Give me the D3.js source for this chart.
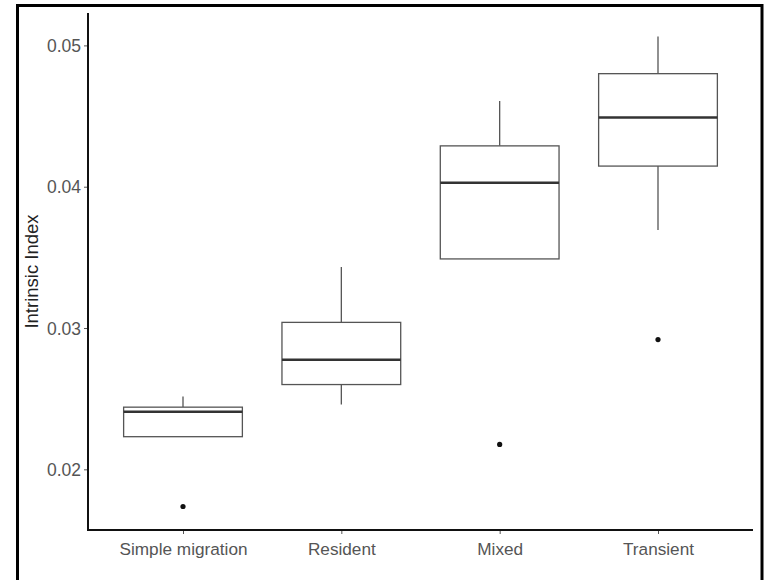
<!DOCTYPE html>
<html><head><meta charset="utf-8">
<script src="https://cdn.jsdelivr.net/npm/d3@7"></script>
<style>body{margin:0;background:#fff}svg{display:block}text{font-family:"Liberation Sans",Arial,sans-serif}</style>
</head><body>
<script>
const categories = ["Simple migration", "Resident", "Mixed", "Transient"];
const lowerWhisker = [0.02231, 0.02459, 0.03489, 0.03694];
const q1 = [0.02231, 0.02600, 0.03489, 0.04146];
const median = [0.02407, 0.02776, 0.04028, 0.04490];
const q3 = [0.02440, 0.03040, 0.04289, 0.04800];
const upperWhisker = [0.02515, 0.03431, 0.04607, 0.05063];
const outliers = [[0.01737], [], [0.02176], [0.02918]];
const yTicks = [0.02, 0.03, 0.04, 0.05];
const yTitle = "Intrinsic Index";

const W = 766, H = 580;
const svg = d3.select("body").append("svg").attr("width", W).attr("height", H);
svg.append("rect").attr("width", W).attr("height", H).attr("fill", "#fff");

const plot = {left: 88, right: 753, top: 13, bottom: 530};

const allVals = [].concat(lowerWhisker, upperWhisker, ...outliers);
const dmin = d3.min(allVals), dmax = d3.max(allVals);
const pad = (dmax - dmin) * 0.05;
const y = d3.scaleLinear().domain([dmin - pad, dmax + pad]).range([plot.bottom, plot.top]);
const x = d3.scalePoint().domain(categories).range([plot.left, plot.right]).padding(0.6);
const boxW = x.step() * 0.75;

const data = categories.map((c, i) => ({c, lw: lowerWhisker[i], q1: q1[i], med: median[i], q3: q3[i], uw: upperWhisker[i], out: outliers[i]}));

const g = svg.append("g");
const boxStroke = "#555", lineW = 1.3;
data.forEach(d => {
  const cx = x(d.c);
  g.append("line").attr("x1", cx).attr("x2", cx).attr("y1", y(d.uw)).attr("y2", y(d.q3))
    .attr("stroke", boxStroke).attr("stroke-width", lineW);
  g.append("line").attr("x1", cx).attr("x2", cx).attr("y1", y(d.q1)).attr("y2", y(d.lw))
    .attr("stroke", boxStroke).attr("stroke-width", lineW);
  g.append("rect").attr("x", cx - boxW / 2).attr("width", boxW)
    .attr("y", y(d.q3)).attr("height", y(d.q1) - y(d.q3))
    .attr("fill", "#fff").attr("stroke", boxStroke).attr("stroke-width", lineW);
  g.append("line").attr("x1", cx - boxW / 2).attr("x2", cx + boxW / 2).attr("y1", y(d.med)).attr("y2", y(d.med))
    .attr("stroke", "#333").attr("stroke-width", 2.6);
  d.out.forEach(o => {
    g.append("circle").attr("cx", cx).attr("cy", y(o)).attr("r", 2.6).attr("fill", "#111");
  });
});

// axes
const yAxis = svg.append("g").attr("transform", `translate(${plot.left},0)`)
  .call(d3.axisLeft(y).tickValues(yTicks).tickFormat(d3.format(".2f")).tickSize(4).tickSizeOuter(0));
yAxis.select(".domain").remove();
yAxis.selectAll(".tick line").attr("stroke", "#555");
yAxis.selectAll(".tick text").attr("fill", "#555").attr("font-size", 17.5).attr("x", -7).attr("dy", "0.35em");

const xAxis = svg.append("g").attr("transform", `translate(0,${plot.bottom})`)
  .call(d3.axisBottom(x).tickSize(4).tickSizeOuter(0));
xAxis.select(".domain").remove();
xAxis.selectAll(".tick line").attr("stroke", "#555");
xAxis.selectAll(".tick text").attr("fill", "#555").attr("font-size", 17.2).attr("y", 10).attr("dy", "0.9em");

svg.append("line").attr("x1", plot.left).attr("x2", plot.left).attr("y1", plot.top).attr("y2", plot.bottom + 1)
  .attr("stroke", "#111").attr("stroke-width", 2);
svg.append("line").attr("x1", plot.left - 1).attr("x2", plot.right).attr("y1", plot.bottom).attr("y2", plot.bottom)
  .attr("stroke", "#111").attr("stroke-width", 2);

svg.append("text").attr("transform", `translate(38,${(plot.top + plot.bottom) / 2}) rotate(-90)`)
  .attr("text-anchor", "middle").attr("font-size", 18.5).attr("fill", "#222").text(yTitle);

// outer frame
svg.append("rect").attr("x", 17.5).attr("y", 5.5).attr("width", 744.5).attr("height", 577)
  .attr("fill", "none").attr("stroke", "#000").attr("stroke-width", 3);
</script>
</body></html>
